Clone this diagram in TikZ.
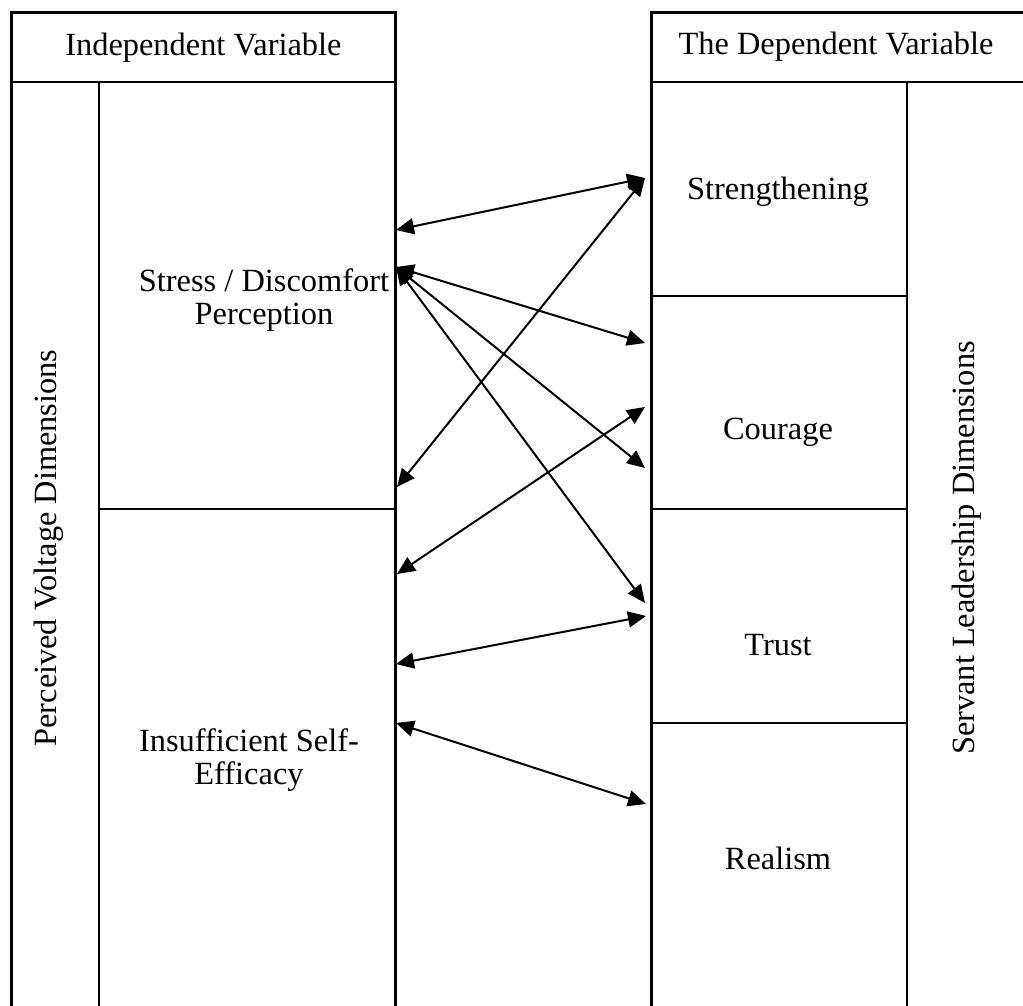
\documentclass[tikz,border=0pt]{standalone}
\usepackage{fontspec}
\setmainfont{Liberation Serif}
\usetikzlibrary{arrows.meta}

\tikzset{
  cell/.style={draw, line width=0.9pt, anchor=north west, inner sep=0pt},
  frame/.style={draw, line width=1.4pt},
  lbl/.style={align=center, font=\fontsize{16.2}{16.5}\selectfont},
  link/.style={{Triangle[length=9pt,width=8pt]}-{Triangle[length=9pt,width=8pt]}, line width=1pt},
}

\begin{document}
\begin{tikzpicture}[x=0.5pt, y=-0.5pt]
			\useasboundingbox (0,0) rectangle (1023,1006);
			\clip (0,0) rectangle (1023,1006);
			
			% left block
			\node[cell, minimum width=191.5pt, minimum height=34.5pt] (ivh) at (11,12) {};
			\node[cell, minimum width=43.5pt, minimum height=469.5pt] (pvd) at (11,81) {};
			\node[cell, minimum width=148pt, minimum height=213.5pt] (sdp) at (98,81) {};
			\node[cell, minimum width=148pt, minimum height=256pt] (ise) at (98,508) {};
			\draw[frame] (ivh.north west) rectangle (ise.south east);
			
			% right block
			\node[cell, minimum width=189.5pt, minimum height=34.5pt] (dvh) at (651,12) {};
			\node[cell, minimum width=127.5pt, minimum height=107pt] (str) at (651,81) {};
			\node[cell, minimum width=127.5pt, minimum height=106.5pt] (cou) at (651,295) {};
			\node[cell, minimum width=127.5pt, minimum height=107pt] (tru) at (651,508) {};
			\node[cell, minimum width=127.5pt, minimum height=149pt] (rea) at (651,722) {};
			\node[cell, minimum width=62pt, minimum height=469.5pt] (sld) at (906,81) {};
			\draw[frame] (dvh.north west) rectangle (sld.south east);
			
			% labels
			\node[lbl] (ivhtext) at (ivh.center) {Independent Variable};
			\node[lbl] (dvhtext) at (836,47) {The Dependent Variable};
			\node[lbl, rotate=90] (pvdtext) at (49,548) {Perceived Voltage Dimensions};
			\node[lbl, rotate=90] (sldtext) at (967,548) {Servant Leadership Dimensions};
			\node[lbl] (sdptext) at (264,300) {Stress / Discomfort\\Perception};
			\node[lbl] (isetext) at (249,760) {Insufficient Self-\\Efficacy};
			\node[lbl] (strtext) at (778,192) {Strengthening};
			\node[lbl] (coutext) at (778,432) {Courage};
			\node[lbl] (trutext) at (778,645) {Trust};
			\node[lbl] (reatext) at (778,858) {Realism};
			
			% arrow ends
			\coordinate (la) at (396,230);
			\coordinate (lb) at (396,267);
			\coordinate (lc) at (397,487);
			\coordinate (ld) at (397,574);
			\coordinate (le) at (396,664);
			\coordinate (lf) at (396,723);
			\coordinate (rs) at (645,178);
			\coordinate (rc1) at (645,343);
			\coordinate (rc2) at (645,407);
			\coordinate (rc3) at (645,468);
			\coordinate (rt1) at (645,603);
			\coordinate (rt2) at (646,616);
			\coordinate (rr) at (646,804);
			
			\draw[link] (la) -- (rs);
			\draw[link] (lc) -- (rs);
			\draw[link] (lb) -- (rc1);
			\draw[link] (lb) -- (rc3);
			\draw[link] (lb) -- (rt1);
			\draw[link] (ld) -- (rc2);
			\draw[link] (le) -- (rt2);
			\draw[link] (lf) -- (rr);
			
\end{tikzpicture}
\end{document}
